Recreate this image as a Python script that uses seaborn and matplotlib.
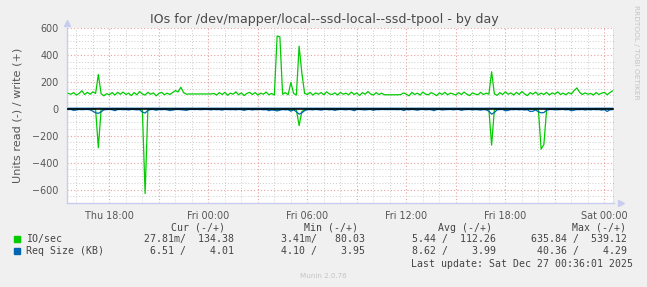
import numpy as np
import pandas as pd
import matplotlib
matplotlib.use("Agg")
import matplotlib.pyplot as plt
import matplotlib.dates as mdates
from matplotlib.ticker import MultipleLocator, FuncFormatter
from matplotlib.patches import Rectangle
import seaborn as sns

# ---------------- data ----------------
START = "2025-12-25 15:30"
STEP = "10min"
X_START = "2025-12-25 15:26"
X_END = "2025-12-27 00:35"

io_write = [
    115, 108, 120, 102, 114, 134, 106, 122, 108, 126, 114, 255, 112, 96, 112, 104, 120, 102, 122, 108,
    124, 106, 116, 98, 120, 104, 128, 110, 102, 122, 108, 118, 96, 114, 122, 104, 116, 106, 120, 135,
    125, 160, 120, 108, 110, 110, 110, 110, 110, 110, 110, 110, 110, 114, 102, 120, 106, 122, 100, 116,
    108, 126, 104, 118, 98, 114, 122, 106, 120, 102, 116, 108, 124, 104, 114, 102, 540, 535, 108, 120,
    104, 195, 114, 102, 465, 265, 114, 106, 122, 102, 118, 108, 120, 104, 126, 110, 106, 118, 102, 122,
    108, 116, 104, 124, 106, 118, 98, 120, 108, 128, 110, 102, 120, 106, 116, 104, 104, 104, 104, 104,
    104, 106, 118, 108, 96, 122, 106, 116, 102, 124, 108, 104, 120, 110, 98, 118, 106, 122, 104, 116,
    110, 102, 120, 106, 124, 108, 98, 118, 110, 104, 122, 106, 116, 108, 275, 110, 100, 120, 106, 126,
    108, 118, 102, 122, 106, 128, 110, 98, 120, 108, 124, 104, 116, 106, 122, 102, 118, 108, 126, 106,
    116, 104, 120, 110, 135, 155, 122, 106, 118, 108, 114, 102, 120, 106, 116, 122, 104, 120, 134,
]

io_read = [
    2, 1, 3, 2, 1, 2, 4, 2, 1, 3, 6, 290, 5, 2, 1, 3, 2, 1, 2, 1,
    3, 2, 1, 2, 4, 2, 1, 8, 630, 4, 2, 1, 3, 2, 1, 2, 3, 1, 2, 1,
    2, 3, 1, 2, 1, 1, 1, 1, 1, 1, 1, 2, 1, 3, 2, 1, 2, 4, 1, 2,
    1, 3, 2, 1, 2, 1, 4, 2, 1, 3, 2, 1, 2, 1, 3, 5, 10, 6, 2, 1,
    3, 12, 4, 8, 125, 20, 5, 2, 1, 3, 2, 1, 2, 4, 1, 2, 3, 1, 2, 1,
    2, 1, 3, 2, 1, 4, 2, 1, 3, 2, 1, 2, 1, 3, 2, 1, 1, 1, 1, 1,
    2, 3, 1, 2, 4, 1, 2, 3, 1, 2, 1, 3, 2, 1, 2, 4, 1, 2, 1, 3,
    2, 1, 3, 2, 1, 2, 4, 1, 2, 3, 1, 2, 1, 4, 270, 6, 2, 1, 3, 2,
    1, 2, 3, 1, 2, 1, 4, 2, 1, 3, 2, 5, 300, 265, 4, 2, 1, 3, 2, 1,
    2, 1, 3, 2, 1, 4, 2, 1, 3, 2, 1, 2, 3, 1, 2, 4, 1, 2, 0.03,
]

req_write = [
    4.0, 4.1, 3.98, 4.02, 4.05, 3.97, 4.0, 4.12, 4.0, 3.96, 4.03, 4.2, 4.0, 3.99, 4.01, 4.04, 3.97, 4.0, 4.06, 3.98,
    4.02, 4.0, 3.96, 4.05, 4.01, 3.99, 4.08, 4.0, 4.15, 3.98, 4.0, 4.03, 3.97, 4.01, 4.0, 4.05, 3.99, 4.02, 4.0, 4.1,
    4.04, 4.0, 3.98, 4.0, 4.0, 4.0, 4.0, 4.0, 4.0, 4.0, 4.0, 4.02, 3.99, 4.01, 4.03, 3.98, 4.0, 4.06, 3.97, 4.02,
    4.0, 4.04, 3.98, 4.01, 3.99, 4.02, 4.05, 4.0, 3.97, 4.03, 4.0, 3.99, 4.04, 4.0, 3.98, 4.02, 4.29, 4.25, 4.0, 4.01,
    3.99, 4.1, 4.02, 3.98, 4.2, 4.12, 4.0, 4.03, 3.97, 4.01, 4.0, 4.04, 3.99, 4.02, 3.98, 4.0, 4.05, 3.97, 4.01, 4.0,
    4.03, 3.99, 4.02, 4.0, 3.98, 4.04, 4.0, 3.97, 4.02, 4.01, 3.99, 4.03, 4.0, 3.98, 4.02, 4.0, 4.0, 4.0, 4.0, 4.0,
    4.01, 3.99, 4.03, 4.0, 3.97, 4.02, 4.0, 4.04, 3.98, 4.01, 4.0, 3.99, 4.03, 4.0, 3.98, 4.02, 4.0, 4.05, 3.99, 4.01,
    4.0, 3.98, 4.03, 4.0, 4.02, 3.99, 4.01, 4.0, 3.97, 4.04, 4.0, 4.02, 3.98, 4.01, 4.15, 4.0, 3.99, 4.03, 4.0, 4.02,
    3.98, 4.01, 4.0, 4.04, 3.99, 4.02, 4.0, 3.97, 4.03, 4.0, 4.01, 3.99, 4.1, 4.05, 4.0, 4.02, 3.98, 4.01, 4.0, 4.03,
    3.99, 4.0, 4.02, 3.98, 4.06, 4.1, 4.0, 4.01, 3.99, 4.02, 4.0, 3.98, 4.03, 4.0, 4.01, 3.99, 4.02, 4.0, 4.01,
]

req_read = [
    6, 5, 12, 9, 5, 7, 6, 5, 8, 18, 30, 34, 22, 8, 6, 5, 7, 14, 6, 5,
    7, 6, 9, 5, 6, 8, 7, 24, 32, 12, 6, 5, 11, 6, 7, 5, 8, 13, 10, 6,
    5, 7, 9, 12, 6, 5, 6, 5, 7, 6, 5, 6, 8, 5, 7, 6, 10, 5, 6, 7,
    6, 8, 5, 7, 12, 6, 5, 9, 6, 7, 5, 8, 6, 14, 9, 11, 16, 10, 6, 8,
    7, 18, 8, 22, 40, 30, 14, 7, 6, 8, 5, 7, 10, 6, 5, 8, 6, 12, 7, 5,
    6, 8, 5, 7, 14, 6, 5, 7, 9, 6, 5, 12, 6, 7, 5, 6, 6, 6, 6, 6,
    7, 5, 13, 6, 8, 5, 7, 11, 6, 5, 8, 6, 7, 14, 6, 5, 9, 7, 6, 5,
    8, 6, 5, 12, 7, 6, 5, 9, 6, 7, 10, 6, 8, 18, 40, 28, 8, 6, 5, 15,
    12, 6, 7, 5, 8, 6, 9, 7, 20, 18, 9, 22, 30, 28, 10, 6, 5, 8, 7, 6,
    5, 8, 6, 15, 10, 6, 7, 5, 9, 6, 8, 5, 7, 6, 10, 6, 20, 8, 6.5,
]

y_ticks = [-600, -400, -200, 0, 200, 400, 600]
y_limits = [-700, 600]

title = "IOs for /dev/mapper/local--ssd-local--ssd-tpool - by day"
y_label = "Units read (-) / write (+)"
legend_headers = ["Cur (-/+)", "Min (-/+)", "Avg (-/+)", "Max (-/+)"]
legend_series = ["IO/sec", "Req Size (KB)"]
legend_io = ["27.81m/  134.38", "3.41m/   80.03", "5.44 /  112.26", "635.84 /  539.12"]
legend_req = ["6.51 /    4.01", "4.10 /    3.95", "8.62 /    3.99", "40.36 /    4.29"]
last_update = "Last update: Sat Dec 27 00:36:01 2025"
side_text = "RRDTOOL / TOBI OETIKER"
footer = "Munin 2.0.76"

GREEN = "#00CC00"
BLUE = "#0066B3"

# ---------------- frame ----------------
times = pd.date_range(START, periods=len(io_write), freq=STEP)
df = pd.DataFrame({
    "time": times,
    "io_w": io_write,
    "io_r": -np.asarray(io_read, dtype=float),
    "rq_w": req_write,
    "rq_r": -np.asarray(req_read, dtype=float),
})

sns.set_theme(style="white")
plt.rcParams["font.family"] = ["DejaVu Sans"]

W, H = 647, 287
fig = plt.figure(figsize=(W / 100, H / 100), dpi=100, facecolor="#F0F0F0")
L, R, T, B = 67, 614, 28, 203
ax = fig.add_axes([L / W, 1 - B / H, (R - L) / W, (B - T) / H])
ax.set_facecolor("white")

for col, color in [("io_w", GREEN), ("io_r", GREEN), ("rq_w", BLUE), ("rq_r", BLUE)]:
    sns.lineplot(data=df, x="time", y=col, color=color, lw=0.9, ax=ax,
                 estimator=None, legend=False, zorder=3)

ax.axhline(0, color="#000000", lw=1.1, zorder=4)

ax.set_xlim(pd.Timestamp(X_START), pd.Timestamp(X_END))
ax.set_ylim(*y_limits)

# grid
ax.xaxis.set_major_locator(mdates.HourLocator(byhour=range(0, 24, 3)))
ax.xaxis.set_minor_locator(mdates.HourLocator())


def xfmt(v, pos):
    d = mdates.num2date(v)
    return d.strftime("%a %H:%M") if d.hour % 6 == 0 else ""


ax.xaxis.set_major_formatter(FuncFormatter(xfmt))
ax.set_yticks(y_ticks)
ax.yaxis.set_minor_locator(MultipleLocator(50))
ax.grid(which="minor", color="#CDCDCD", linestyle=(0, (1, 2)), lw=0.7, zorder=0)
ax.grid(which="major", color="#EBA0A0", linestyle=(0, (1, 2)), lw=0.8, zorder=1)
ax.set_axisbelow(True)

ax.tick_params(axis="x", which="major", length=2, color="#EBA0A0", pad=4,
               labelsize=6.9, labelcolor="#555555")
ax.tick_params(axis="x", which="minor", length=2, color="#CDCDCD")
ax.tick_params(axis="y", which="major", length=0, pad=6, labelsize=6.9, labelcolor="#555555")
ax.tick_params(axis="y", which="minor", length=0)
ax.set_xlabel("")
ax.set_ylabel(y_label, fontsize=8.1, color="#555555", labelpad=7)

for s in ["top", "right"]:
    ax.spines[s].set_visible(False)
for s in ["left", "bottom"]:
    ax.spines[s].set_color("#C8CCEE")
    ax.spines[s].set_linewidth(1.0)

ax.axvline(pd.Timestamp(X_END), color="#7A7A7A", lw=1.0, zorder=5)

# axis arrows
ax.plot([0], [1.03], marker="^", ms=4, color="#C8CCEE", transform=ax.transAxes, clip_on=False)
ax.plot([1.012], [0], marker=">", ms=4, color="#C8CCEE", transform=ax.transAxes, clip_on=False)

# ---------------- texts ----------------
def ftxt(x, y, s, **kw):
    fig.text(x / W, 1 - y / H, s, **kw)


ftxt(324, 19, title, ha="center", va="center", fontsize=9.1, color="#4A4A4A")
ftxt(636, 5, side_text, ha="center", va="top", rotation=270, fontsize=5.3, color="#C4C4C4")
ftxt(323, 276, footer, ha="center", va="center", fontsize=5.1, color="#C4C4C4")

MONO = dict(family="DejaVu Sans Mono", fontsize=7.15, color="#444444", va="center")
for s, xr in zip(legend_headers, [225, 358.3, 492.3, 626]):
    ftxt(xr, 227.7, s, ha="right", **MONO)
for vals, y, name, color in [(legend_io, 239.3, legend_series[0], GREEN),
                             (legend_req, 251, legend_series[1], BLUE)]:
    fig.add_artist(Rectangle((14 / W, 1 - (y + 3) / H), 6 / W, 6 / H,
                             transform=fig.transFigure, color=color))
    ftxt(26.5, y, name, ha="left", **MONO)
    for s, xr in zip(vals, [234, 365, 495.7, 626.7]):
        ftxt(xr, y, s, ha="right", **MONO)
ftxt(632.7, 263.7, last_update, ha="right", **MONO)

fig.savefig("out.png", dpi=100, facecolor=fig.get_facecolor())
